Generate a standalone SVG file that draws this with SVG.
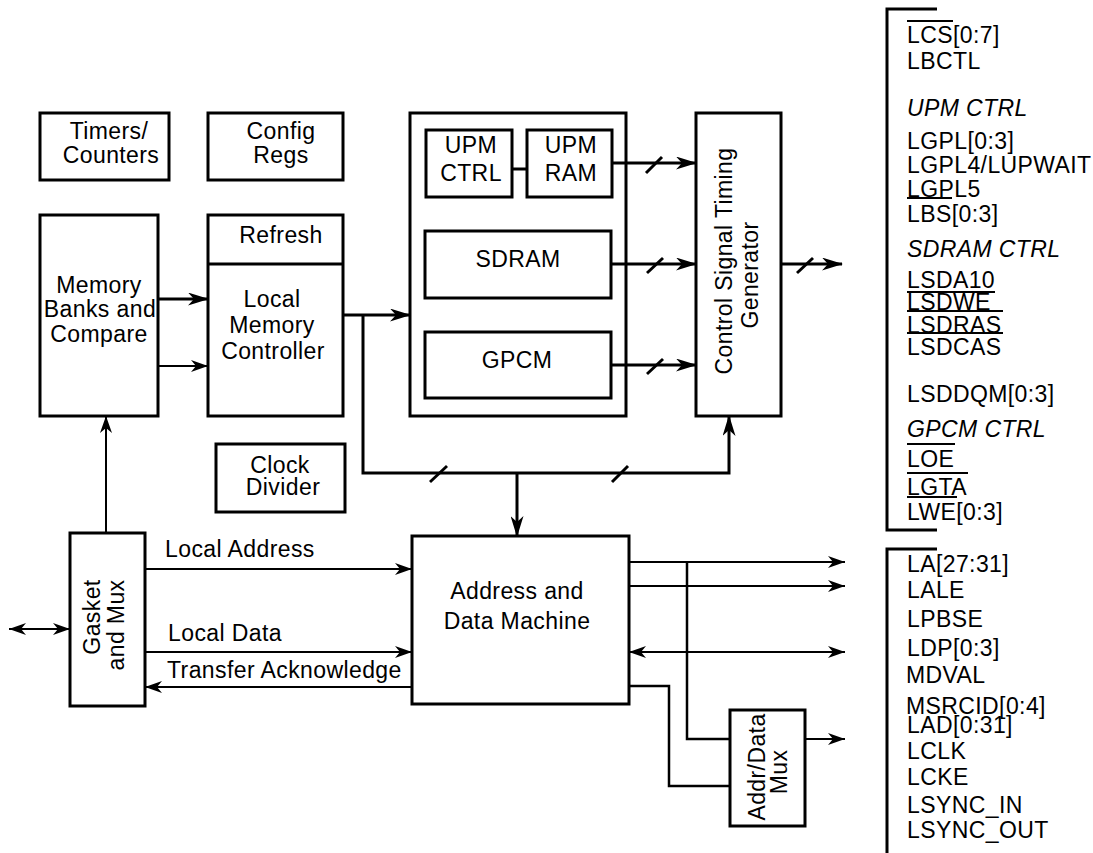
<svg xmlns="http://www.w3.org/2000/svg" width="1093" height="853" viewBox="0 0 1093 853">
<style>
text{font-family:"Liberation Sans",Arial,sans-serif;font-size:23px;letter-spacing:0.4px;fill:#000}
.m{text-anchor:middle}
.i{font-style:italic}
.box{fill:#fff;stroke:#000;stroke-width:3}
.w{fill:none;stroke:#000;stroke-width:3}
.t{fill:none;stroke:#000;stroke-width:2}
.ol{stroke:#000;stroke-width:2}
</style>
<defs>
<marker id="ah" markerUnits="userSpaceOnUse" markerWidth="21" markerHeight="13" refX="20" refY="6.5" orient="auto-start-reverse" viewBox="0 0 21 13"><path d="M0,0 L21,6.5 L0,13 L6,6.5 z" fill="#000"/></marker>
<marker id="as" markerUnits="userSpaceOnUse" markerWidth="17" markerHeight="12" refX="17" refY="6" orient="auto-start-reverse" viewBox="0 0 17 12"><path d="M0,0 L17,6 L0,12 L5,6 z" fill="#000"/></marker>
</defs>
<rect width="1093" height="853" fill="#fff"/>

<g id="timers"><rect class="box" x="40" y="113" width="129" height="67"/><text class="m" x="109" y="139">Timers/</text><text class="m" x="111" y="163">Counters</text></g>
<g id="config"><rect class="box" x="208" y="113" width="135" height="67"/><text class="m" x="281" y="139">Config</text><text class="m" x="281" y="163">Regs</text></g>
<g id="mbc"><rect class="box" x="40" y="215" width="118" height="201"/><text class="m" x="99" y="293">Memory</text><text class="m" x="100" y="317">Banks and</text><text class="m" x="99" y="342">Compare</text></g>
<g id="lmc"><rect class="box" x="208" y="215" width="135" height="201"/><line class="ol" x1="208" y1="264" x2="343" y2="264" style="stroke-width:3"/><text class="m" x="281" y="243">Refresh</text><text class="m" x="272" y="307">Local</text><text class="m" x="272" y="333">Memory</text><text class="m" x="273" y="359">Controller</text></g>
<g id="machines"><rect class="box" x="410" y="113" width="216" height="303"/></g>
<g id="upmctrl"><rect class="box" x="426" y="130" width="86" height="67"/><text class="m" x="471" y="153">UPM</text><text class="m" x="471" y="181">CTRL</text></g>
<g id="upmram"><rect class="box" x="527" y="130" width="85" height="67"/><text class="m" x="571" y="153">UPM</text><text class="m" x="571" y="181">RAM</text></g>
<g id="sdram"><rect class="box" x="425" y="231" width="186" height="67"/><text class="m" x="518" y="267">SDRAM</text></g>
<g id="gpcm"><rect class="box" x="425" y="332" width="186" height="66"/><text class="m" x="517" y="368">GPCM</text></g>
<g id="cstg"><rect class="box" x="696" y="113" width="85" height="303"/><text class="m" transform="translate(732,261) rotate(-90)">Control Signal Timing</text><text class="m" transform="translate(758,275) rotate(-90)">Generator</text></g>
<g id="clock"><rect class="box" x="216" y="444" width="129" height="68"/><text class="m" x="280" y="473">Clock</text><text class="m" x="283" y="495">Divider</text></g>
<g id="gasket"><rect class="box" x="70" y="533" width="75" height="173"/><text class="m" transform="translate(100,617) rotate(-90)">Gasket</text><text class="m" transform="translate(124,625) rotate(-90)">and Mux</text></g>
<g id="adm"><rect class="box" x="412" y="536" width="217" height="168"/><text class="m" x="517" y="599">Address and</text><text class="m" x="517" y="629">Data Machine</text></g>
<g id="admux"><rect class="box" x="730" y="710" width="75" height="116"/><text class="m" transform="translate(765,767) rotate(-90)">Addr/Data</text><text class="m" transform="translate(787,772) rotate(-90)">Mux</text></g>

<g id="connectors">
<line class="w" x1="158" y1="299" x2="208" y2="299" marker-end="url(#ah)"/>
<line class="t" x1="158" y1="366" x2="208" y2="366" marker-end="url(#as)"/>
<line class="w" x1="343" y1="315" x2="410" y2="315" marker-end="url(#ah)"/>
<polyline class="w" points="363,315 363,473 729,473 729,416" marker-end="url(#ah)"/>
<line class="w" x1="517" y1="473" x2="517" y2="536" marker-end="url(#ah)"/>
<line class="w" x1="512" y1="169" x2="527" y2="169"/>
<line class="w" x1="612" y1="163" x2="696" y2="163" marker-end="url(#ah)"/>
<line class="w" x1="611" y1="264" x2="696" y2="264" marker-end="url(#ah)"/>
<line class="w" x1="611" y1="365" x2="696" y2="365" marker-end="url(#ah)"/>
<line class="w" x1="781" y1="264" x2="842" y2="264" marker-end="url(#ah)"/>
<line class="w" x1="646" y1="173" x2="662" y2="157"/>
<line class="w" x1="647" y1="273" x2="663" y2="258"/>
<line class="w" x1="647" y1="374" x2="663" y2="359"/>
<line class="w" x1="797" y1="273" x2="813" y2="258"/>
<line class="w" x1="430" y1="482" x2="447" y2="466"/>
<line class="w" x1="612" y1="482" x2="628" y2="466"/>
<line class="t" x1="106" y1="533" x2="106" y2="416" marker-end="url(#as)"/>
<line class="t" x1="9" y1="629" x2="70" y2="629" marker-start="url(#as)" marker-end="url(#as)"/>
<line class="t" x1="145" y1="569" x2="412" y2="569" marker-end="url(#as)"/>
<line class="t" x1="145" y1="652" x2="412" y2="652" marker-end="url(#as)"/>
<line class="t" x1="412" y1="687" x2="145" y2="687" marker-end="url(#as)"/>
<line class="t" x1="629" y1="562" x2="845" y2="562" marker-end="url(#as)"/>
<line class="t" x1="629" y1="586" x2="845" y2="586" marker-end="url(#as)"/>
<line class="t" x1="629" y1="652" x2="845" y2="652" marker-start="url(#as)" marker-end="url(#as)"/>
<polyline class="t" points="629,686 669,686 669,786 730,786" style="stroke-width:2.5"/>
<polyline class="t" points="687,562 687,739 730,739" style="stroke-width:2.5"/>
<line class="t" x1="805" y1="739" x2="845" y2="739" marker-end="url(#as)"/>
<text x="165" y="557">Local Address</text>
<text x="168" y="641">Local Data</text>
<text x="167" y="678">Transfer Acknowledge</text>
</g>

<g id="signals1">
<polyline class="w" points="937,9 887,9 887,530 937,530"/>
<text x="907" y="43">LCS[0:7]</text>
<line class="ol" x1="907" y1="21" x2="953" y2="21"/>
<text x="907" y="69">LBCTL</text>
<text class="i" x="907" y="116">UPM CTRL</text>
<text x="907" y="149">LGPL[0:3]</text>
<text x="907" y="173">LGPL4/LUPWAIT</text>
<text x="907" y="197">LGPL5</text>
<line class="ol" x1="907" y1="198" x2="952" y2="198"/>
<text x="907" y="222">LBS[0:3]</text>
<text class="i" x="907" y="257">SDRAM CTRL</text>
<text x="907" y="288">LSDA10</text>
<line class="ol" x1="907" y1="292" x2="995" y2="292"/>
<text x="907" y="310">LSDWE</text>
<line class="ol" x1="907" y1="311" x2="1003" y2="311"/>
<text x="907" y="333">LSDRAS</text>
<line class="ol" x1="907" y1="333" x2="1003" y2="333"/>
<text x="907" y="355">LSDCAS</text>
<text x="907" y="402">LSDDQM[0:3]</text>
<text class="i" x="907" y="437">GPCM CTRL</text>
<line class="ol" x1="907" y1="444" x2="955" y2="444"/>
<text x="907" y="467">LOE</text>
<line class="ol" x1="907" y1="473" x2="968" y2="473"/>
<text x="907" y="495">LGTA</text>
<line class="ol" x1="907" y1="497" x2="957" y2="497"/>
<text x="907" y="520">LWE[0:3]</text>
</g>

<g id="signals2">
<polyline class="w" points="937,549 887,549 887,853"/>
<text x="907" y="572">LA[27:31]</text>
<text x="907" y="598">LALE</text>
<text x="907" y="627">LPBSE</text>
<text x="907" y="656">LDP[0:3]</text>
<text x="906" y="683">MDVAL</text>
<text x="906" y="714">MSRCID[0:4]</text>
<text x="907" y="733">LAD[0:31]</text>
<text x="907" y="759">LCLK</text>
<text x="907" y="785">LCKE</text>
<text x="907" y="813">LSYNC_IN</text>
<text x="907" y="838">LSYNC_OUT</text>
</g>
</svg>
